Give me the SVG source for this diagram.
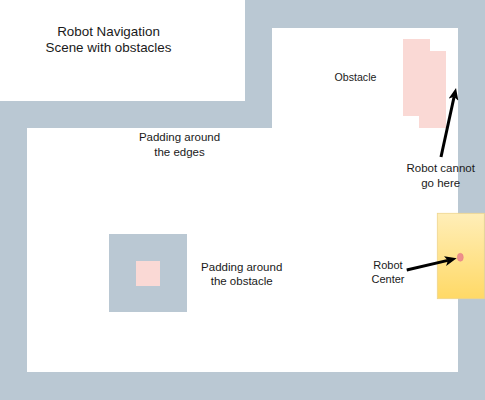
<svg xmlns="http://www.w3.org/2000/svg" width="485" height="400" viewBox="0 0 485 400">
<style>
.wall{fill:#BAC8D3}
.obs{fill:#FAD9D5}
.t{font-family:"Liberation Sans",Arial,sans-serif;font-size:11.5px;fill:#1a1a1a;text-anchor:middle}
.arr{stroke:#000;stroke-width:3;fill:none}
</style>
<defs>
<marker id="ah" viewBox="0 0 12 10" refX="3" refY="5" markerWidth="12" markerHeight="10" markerUnits="userSpaceOnUse" orient="auto">
<path d="M0,0 L12,5 L0,10 L3,5 Z" fill="#000"/>
</marker>
<linearGradient id="yg" x1="0" y1="0" x2="0" y2="1">
<stop offset="0" stop-color="#FFEEB8"/>
<stop offset="1" stop-color="#FFD966"/>
</linearGradient>
</defs>
<rect width="485" height="400" fill="#fff"/>
<g id="walls">
<rect class="wall" x="0" y="101" width="27" height="299"/>
<rect class="wall" x="0" y="372" width="485" height="28"/>
<rect class="wall" x="458" y="0" width="27" height="400"/>
<rect class="wall" x="245" y="0" width="240" height="28"/>
<rect class="wall" x="245" y="0" width="27" height="128"/>
<rect class="wall" x="0" y="101" width="272" height="27"/>
</g>
<g id="title">
<text class="t" x="108.5" y="35.5" style="font-size:13.4px">Robot Navigation</text>
<text class="t" x="108.5" y="51.5" style="font-size:13.4px">Scene with obstacles</text>
</g>
<g id="edge-label">
<text class="t" x="179.5" y="140.8">Padding around</text>
<text class="t" x="179.5" y="155.8">the edges</text>
</g>
<g id="obstacle">
<rect class="obs" x="403" y="39" width="27" height="77"/>
<rect class="obs" x="419" y="51" width="27" height="77"/>
</g>
<text id="obstacle-label" class="t" x="355.5" y="80.5" style="font-size:10.6px">Obstacle</text>
<g id="padded-obstacle">
<rect class="wall" x="109" y="234" width="78" height="78"/>
<rect class="obs" x="136" y="261" width="24" height="25"/>
</g>
<g id="obstacle-pad-label">
<text class="t" x="241.7" y="270.7">Padding around</text>
<text class="t" x="241.7" y="284.7">the obstacle</text>
</g>
<g id="robot">
<rect x="437.3" y="213.3" width="47" height="85.4" fill="url(#yg)" stroke="#EED58E" stroke-width="0.8"/>
<ellipse cx="460.3" cy="257.3" rx="3" ry="4" fill="#EE8E8C" stroke="#E58080" stroke-width="0.5"/>
</g>
<g id="cannot-label">
<text class="t" x="440.7" y="172.3">Robot cannot</text>
<text class="t" x="440.7" y="187.3">go here</text>
</g>
<g id="center-label">
<text class="t" x="388" y="269" style="font-size:11px">Robot</text>
<text class="t" x="388" y="283" style="font-size:11px">Center</text>
</g>
<g id="connectors">
<path class="arr" d="M441,157 L454.1,96.8" marker-end="url(#ah)"/>
<path class="arr" d="M406.7,270 L447.9,260.4" marker-end="url(#ah)"/>
</g>
</svg>
